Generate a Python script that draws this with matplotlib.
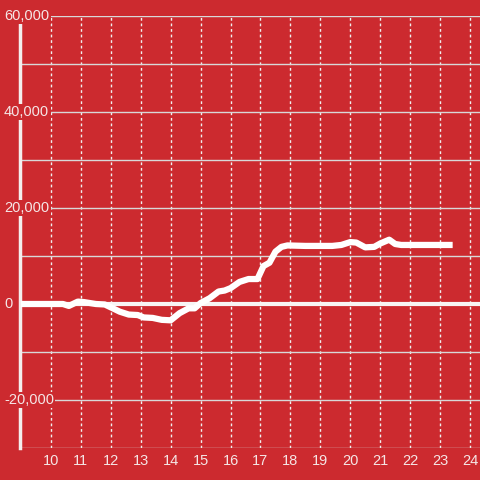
import matplotlib
matplotlib.use("Agg")
import matplotlib.pyplot as plt
from matplotlib.transforms import blended_transform_factory

# hours of day and running value
hours = [9.0, 10.4, 10.6, 10.9, 11.1, 11.5, 11.8, 12.0, 12.3, 12.6, 12.9, 13.1, 13.4,
         13.7, 14.0, 14.3, 14.6, 14.8, 15.0, 15.3, 15.6, 15.8, 16.0, 16.3, 16.6,
         16.9, 17.1, 17.3, 17.5, 17.7, 17.9, 18.5, 19.4, 19.7, 20.0, 20.2, 20.5,
         20.8, 21.0, 21.3, 21.5, 21.7, 22.5, 23.42]
values = [0, 0, -400, 500, 400, 0, -100, -700, -1600, -2200, -2300, -2800, -2900,
          -3300, -3400, -1900, -900, -900, 200, 1200, 2600, 2800, 3300, 4600, 5200,
          5200, 7900, 8600, 10900, 11900, 12200, 12100, 12100, 12300, 12900, 12800, 11800,
          11900, 12600, 13400, 12500, 12300, 12300, 12300]

y_ticks = [60000, 40000, 20000, 0, -20000]
x_ticks = list(range(10, 25))

bg = '#cc2a2f'
txt = '#f5e6e6'

plt.rcParams['font.family'] = ['Liberation Sans', 'DejaVu Sans']

fig = plt.figure(figsize=(4.8, 4.8), dpi=100, facecolor=bg)
ax = fig.add_axes([20 / 480, 32 / 480, 460 / 480, 432 / 480], facecolor=bg)
ax.set_xlim(10 - 31 / 30, 10 + 430 / 30)
ax.set_ylim(-30000, 60000)

# grid
for h in x_ticks:
    ax.axvline(h, color='#f0f0f0', linewidth=1, linestyle=(0, (2, 2)), zorder=1)
for v in range(-30000, 60001, 10000):
    ax.axhline(v, color='#d8d8d8', linewidth=1, zorder=1)
ax.axhline(0, color='#f8f4f4', linewidth=3, zorder=2)

ax.plot(hours, values, color='white', linewidth=4.5, solid_joinstyle='round',
        solid_capstyle='butt', zorder=4)

for s in ['top', 'right', 'bottom']:
    ax.spines[s].set_visible(False)
ax.spines['left'].set_color('#f4eeee')
ax.spines['left'].set_linewidth(2.5)
ax.spines['left'].set_bounds(-30000, 58300)

ax.set_yticks([])
ax.set_xticks(x_ticks)
ax.set_xticklabels([str(h) for h in x_ticks])
ax.tick_params(axis='x', length=0, pad=4, labelsize=10.5, labelcolor=txt)

tr = blended_transform_factory(fig.transFigure, ax.transData)
for v in y_ticks:
    ax.text(4 / 480, v, f"{v:,}", transform=tr, ha='left', va='center', fontsize=10.5,
            color=txt, zorder=5, clip_on=False,
            bbox=dict(facecolor=bg, edgecolor='none', pad=1))

fig.savefig('out.png', dpi=100, facecolor=bg)
